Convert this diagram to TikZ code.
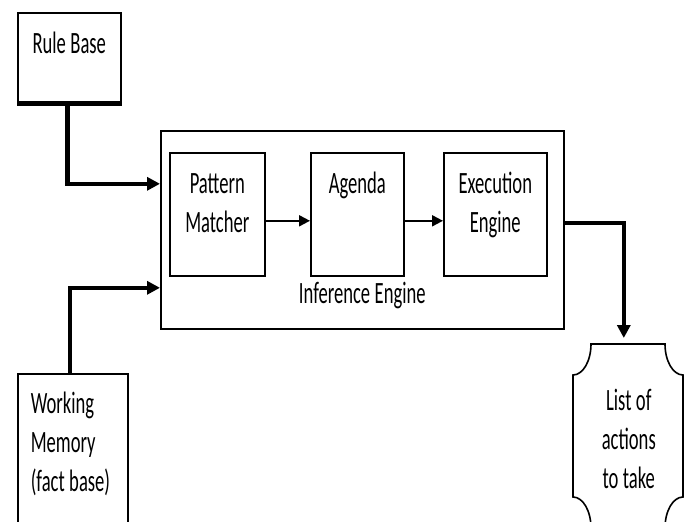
\documentclass[tikz,border=0pt]{standalone}
\usepackage{fontspec}
\setmainfont{Carlito}[FakeStretch=0.6]
\usetikzlibrary{arrows.meta}
\newcommand\boxfont{\fontsize{31}{39}\selectfont\spaceskip=4.5pt plus 1pt minus 1pt\relax}

\begin{document}
\begin{tikzpicture}[x=1pt, y=-1pt,
        box/.style={draw, line width=1.6pt, inner sep=0pt, anchor=north west,
            align=flush center, font=\boxfont},
        conn/.style={line width=4.5pt, -{Triangle[length=13pt, width=13pt]}},
        flow/.style={line width=2pt, -{Triangle[length=11pt, width=11pt]}}]
    \useasboundingbox (0,0) rectangle (686,522);
    % outer engine box, its label sits at the bottom
    \node[box, text width=403pt, text height=173pt, text depth=25pt] (ie) at (160,130) {Inference Engine};
    \node[box, text width=95pt, text height=41pt, text depth=82pt] (pm) at (169,152) {Pattern\\Matcher};
    \node[box, text width=93pt, text height=41pt, text depth=82pt] (ag) at (310,152) {Agenda};
    \node[box, text width=103pt, text height=41pt, text depth=82pt] (ee) at (443,152) {Execution\\Engine};
    \node[box, text width=103pt, text height=41pt, text depth=49pt] (rule) at (17,12) {Rule Base};
    \node[box, align=flush left, inner xsep=13pt, text width=84pt, text height=40pt, text depth=127pt] (wm) at (17,373) {Working\\Memory\\(fact~base)};
    \node[box, draw=none, text width=110pt, text height=66pt, text depth=118pt] (list) at (573,344) {List of\\actions\\to take};
    % scroll outline round the list
    \draw[line width=1.6pt] (591,344) -- (665,344)
        arc[x radius=18, y radius=31, start angle=180, end angle=90] -- (683,497)
        arc[x radius=18, y radius=31, start angle=270, end angle=180] -- (591,528)
        arc[x radius=18, y radius=31, start angle=0, end angle=-90] -- (573,375)
        arc[x radius=18, y radius=31, start angle=90, end angle=0] -- cycle;
    \draw[line width=4.5pt] (rule.south west) -- (rule.south east);
    \draw[conn] ([xshift=-2pt]rule.south) |- ([yshift=46pt]ie.west);
    \draw[conn] ([xshift=-3pt]wm.north) |- ([yshift=-58pt]ie.west);
    \draw[flow] ([yshift=-6.5pt]pm.east) -- ([yshift=-6.5pt]ag.west);
    \draw[flow] ([yshift=-6.5pt]ag.east) -- ([yshift=-6.5pt]ee.west);
    \draw[conn, shorten >=6pt] ([yshift=7pt]ie.east) -| ([xshift=-5pt]list.north);
\end{tikzpicture}
\end{document}
